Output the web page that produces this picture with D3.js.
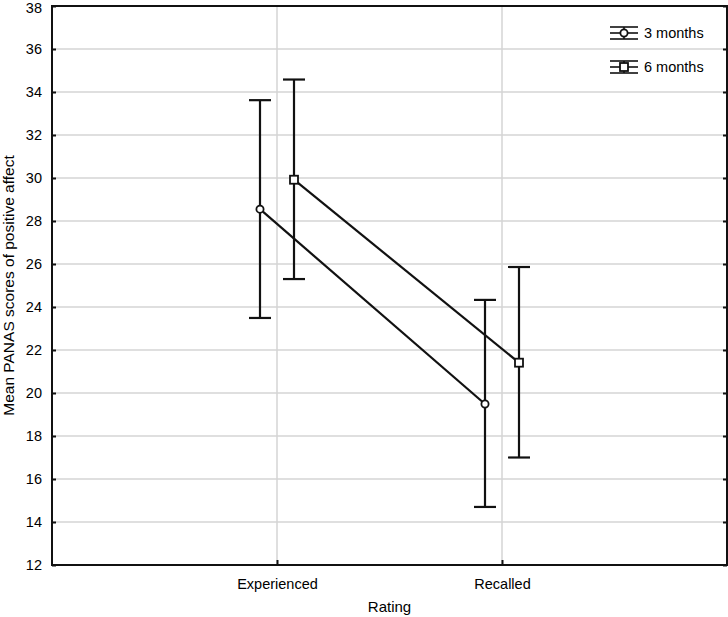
<!DOCTYPE html>
<html>
<head>
<meta charset="utf-8">
<script src="https://cdn.jsdelivr.net/npm/d3@7"></script>
<style>
  body { margin: 0; background: #fff; }
  text { font-family: "Liberation Sans", Arial, sans-serif; fill: #000; }
</style>
</head>
<body>
<div id="chart"></div>
<script>
var categories = ["Experienced", "Recalled"];
var seriesNames = ["3 months", "6 months"];
var means3 = [28.55, 19.49];
var upper3 = [33.62, 24.33];
var lower3 = [23.49, 14.70];
var means6 = [29.92, 21.41];
var upper6 = [34.58, 25.86];
var lower6 = [25.30, 17.00];
var yTicks = [12, 14, 16, 18, 20, 22, 24, 26, 28, 30, 32, 34, 36, 38];

var W = 728, H = 617;
var margin = {top: 6, right: 1, bottom: 52, left: 52},
    width = W - margin.left - margin.right,
    height = H - margin.top - margin.bottom;

var svg = d3.select("#chart").append("svg")
    .attr("width", W)
    .attr("height", H)
  .append("g")
    .attr("transform", "translate(" + margin.left + "," + margin.top + ")");

var x = d3.scalePoint().domain(categories).range([0, width]).padding(1);
var y = d3.scaleLinear().domain([12, 38]).range([height, 0]);
var offset = 17;

// grid
svg.selectAll(".hgrid").data(yTicks.slice(1, -1)).enter().append("line")
  .attr("x1", 0).attr("x2", width)
  .attr("y1", function(d) { return y(d); }).attr("y2", function(d) { return y(d); })
  .attr("stroke", "#d4d4d4").attr("stroke-width", 1.5);
svg.selectAll(".vgrid").data(categories).enter().append("line")
  .attr("x1", function(d) { return x(d); }).attr("x2", function(d) { return x(d); })
  .attr("y1", 0).attr("y2", height)
  .attr("stroke", "#d4d4d4").attr("stroke-width", 1.5);

// axes
var yAxis = svg.append("g")
  .call(d3.axisLeft(y).tickValues(yTicks).tickSizeInner(-4).tickSizeOuter(0).tickPadding(10));
var yAxisR = svg.append("g").attr("transform", "translate(" + width + ",0)")
  .call(d3.axisRight(y).tickValues(yTicks).tickSizeInner(-4).tickSizeOuter(0).tickFormat(""));
var xAxis = svg.append("g").attr("transform", "translate(0," + height + ")")
  .call(d3.axisBottom(x).tickSizeInner(-5).tickSizeOuter(0).tickPadding(14));
[yAxis, yAxisR, xAxis].forEach(function(a) {
  a.select(".domain").remove();
  a.selectAll("line").attr("stroke", "#111").attr("stroke-width", 2);
  a.selectAll("text").attr("font-size", 14.5).attr("fill", "#000")
    .style("font-family", "'Liberation Sans', Arial, sans-serif");
});
// keep the top label inside the page
yAxis.selectAll(".tick text").filter(function(d) { return d === 38; }).attr("dy", "0.45em");

// frame
svg.append("rect").attr("x", 0).attr("y", 0).attr("width", width).attr("height", height)
  .attr("fill", "none").attr("stroke", "#111").attr("stroke-width", 2);

var series = [
  {name: seriesNames[0], mean: means3, up: upper3, lo: lower3, dx: -offset, shape: "circle"},
  {name: seriesNames[1], mean: means6, up: upper6, lo: lower6, dx: offset, shape: "square"}
];
var cap = 11;

function marker(g, shape, cx, cy) {
  if (shape === "circle") {
    g.append("circle").attr("cx", cx).attr("cy", cy).attr("r", 3.6)
      .attr("fill", "#fff").attr("stroke", "#111").attr("stroke-width", 1.8);
  } else {
    g.append("rect").attr("x", cx - 4).attr("y", cy - 4).attr("width", 8).attr("height", 8)
      .attr("fill", "#fff").attr("stroke", "#111").attr("stroke-width", 1.8);
  }
}

series.forEach(function(s) {
  var g = svg.append("g");
  var px = function(i) { return x(categories[i]) + s.dx; };
  g.append("path")
    .attr("d", d3.line().x(function(d, i) { return px(i); }).y(function(d) { return y(d); })(s.mean))
    .attr("fill", "none").attr("stroke", "#111").attr("stroke-width", 2.2);
  categories.forEach(function(c, i) {
    var cx = px(i);
    g.append("line").attr("x1", cx).attr("x2", cx).attr("y1", y(s.up[i])).attr("y2", y(s.lo[i]))
      .attr("stroke", "#111").attr("stroke-width", 2.2);
    [s.up[i], s.lo[i]].forEach(function(v) {
      g.append("line").attr("x1", cx - cap).attr("x2", cx + cap).attr("y1", y(v)).attr("y2", y(v))
        .attr("stroke", "#111").attr("stroke-width", 2.2);
    });
    marker(g, s.shape, cx, y(s.mean[i]));
  });
});

// legend
var legend = svg.append("g").attr("transform", "translate(" + (width - 117) + ",27)");
series.forEach(function(s, i) {
  var lg = legend.append("g").attr("transform", "translate(0," + (i * 34) + ")");
  [-6, 0, 6].forEach(function(dy) {
    lg.append("line").attr("x1", 0).attr("x2", 28).attr("y1", dy).attr("y2", dy)
      .attr("stroke", "#111").attr("stroke-width", 1.6);
  });
  lg.append("line").attr("x1", 14).attr("x2", 14).attr("y1", -6).attr("y2", 6)
    .attr("stroke", "#111").attr("stroke-width", 1.6);
  marker(lg, s.shape, 14, 0);
  lg.append("text").attr("x", 34).attr("y", 5).attr("font-size", 14.5).text(s.name);
});

// titles
svg.append("text").attr("x", width / 2).attr("y", height + 47)
  .attr("text-anchor", "middle").attr("font-size", 15).text("Rating");
svg.append("text").attr("transform", "rotate(-90)")
  .attr("x", -height / 2).attr("y", -38)
  .attr("text-anchor", "middle").attr("font-size", 15.5).text("Mean PANAS scores of positive affect");
</script>
</body>
</html>
